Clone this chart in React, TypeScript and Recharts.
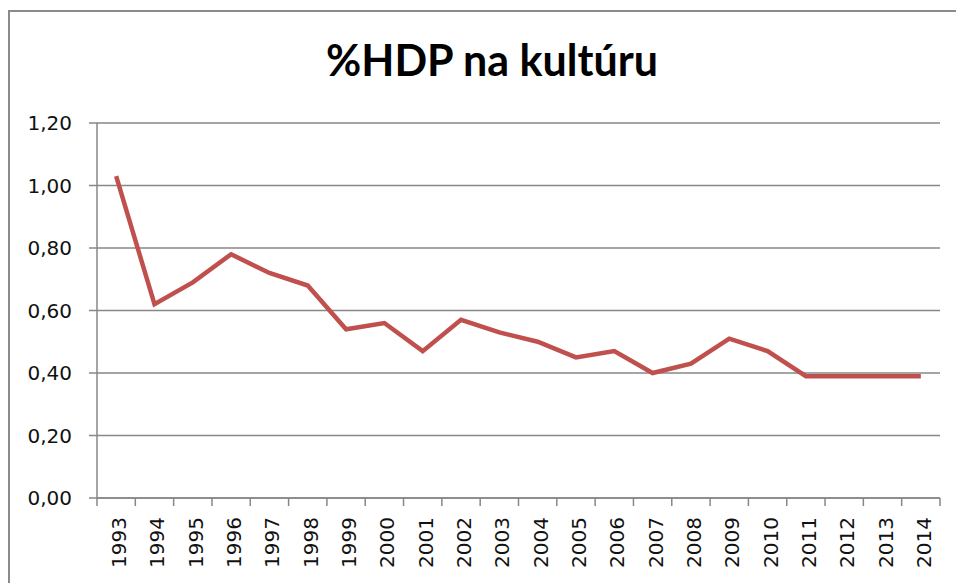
import React from 'react';
import { LineChart, Line, XAxis, YAxis, CartesianGrid } from 'recharts';

const years = ['1993','1994','1995','1996','1997','1998','1999','2000','2001','2002','2003','2004','2005','2006','2007','2008','2009','2010','2011','2012','2013','2014'];
const values = [1.03,0.62,0.69,0.78,0.72,0.68,0.54,0.56,0.47,0.57,0.53,0.50,0.45,0.47,0.40,0.43,0.51,0.47,0.39,0.39,0.39,0.39];
const yTicks = [0, 0.2, 0.4, 0.6, 0.8, 1.0, 1.2];
const title = '%HDP na kultúru';

const data = years.map((y, i) => ({ year: y, value: values[i] }));

const CHART_W = 946;
const CHART_H = 571;
const MARGIN = { top: 111, right: 16, bottom: 5, left: 0 };
const Y_W = 87;
const PLOT_W = CHART_W - MARGIN.left - MARGIN.right - Y_W;
const BAND = PLOT_W / years.length;
const GRID = '#878787';
const FONT = '"DejaVu Sans", Verdana, sans-serif';

const XTick = (props: any) => {
  const { x, y, payload, index } = props;
  const half = BAND / 2;
  const isLast = index === years.length - 1;
  return (
    <g>
      <line x1={x - half} y1={y} x2={x - half} y2={y + 8} stroke={GRID} strokeWidth={1.5} />
      {isLast && <line x1={x + half} y1={y} x2={x + half} y2={y + 8} stroke={GRID} strokeWidth={1.5} />}
      <g transform={`translate(${x + 3},${y + 19})`}>
        <text transform="rotate(-90)" textAnchor="end" dy="0.35em" fontSize={20} fontFamily={FONT} fill="#111">
          {payload.value}
        </text>
      </g>
    </g>
  );
};

export default function App() {
  return (
    <div style={{ position: 'absolute', left: 8, top: 10, width: 960, height: 590, borderTop: '2px solid #8a8a8a', borderLeft: '2px solid #8a8a8a', background: '#fff', overflow: 'hidden' }}>
      <div style={{ position: 'absolute', left: 0, top: 26, width: 960 }}>
        <span style={{ position: 'absolute', left: 482, transform: 'translateX(-50%)', whiteSpace: 'nowrap', fontFamily: 'Lato, sans-serif', fontWeight: 700, fontSize: 43, lineHeight: '43px', color: '#000' }}>
          {title}
        </span>
      </div>
      <LineChart width={CHART_W} height={CHART_H} data={data} margin={MARGIN}>
        <CartesianGrid vertical={false} stroke={GRID} strokeWidth={1.5} />
        <XAxis
          dataKey="year"
          type="category"
          interval={0}
          padding={{ left: BAND / 2, right: BAND / 2 }}
          tickLine={false}
          tickSize={0}
          tickMargin={0}
          axisLine={{ stroke: GRID, strokeWidth: 1.5 }}
          height={80}
          tick={<XTick />}
        />
        <YAxis
          width={Y_W}
          domain={[0, 1.2]}
          ticks={yTicks}
          interval={0}
          tickSize={8}
          tickMargin={17}
          tickLine={{ stroke: GRID, strokeWidth: 1.5 }}
          axisLine={{ stroke: GRID, strokeWidth: 1.5 }}
          tick={{ fontSize: 20, fontFamily: FONT, fill: '#111' }}
          tickFormatter={(v: number) => v.toFixed(2).replace('.', ',')}
        />
        <Line type="linear" dataKey="value" stroke="#C0504D" strokeWidth={4.5} dot={false} activeDot={false} isAnimationActive={false} />
      </LineChart>
    </div>
  );
}
